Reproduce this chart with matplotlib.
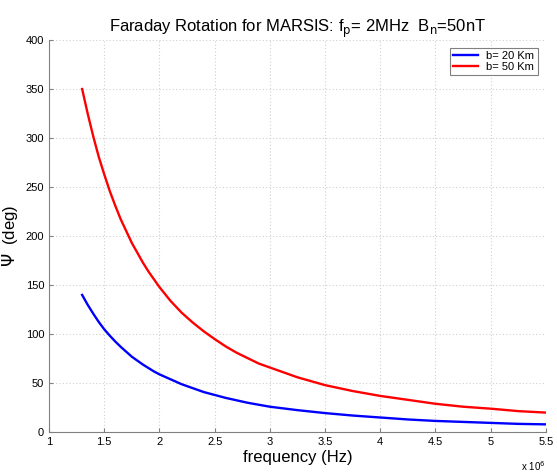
import matplotlib
matplotlib.use("Agg")
import matplotlib.pyplot as plt

# frequency in units of 1e6 Hz
freq = [1.3, 1.35, 1.4, 1.45, 1.5, 1.55, 1.6, 1.65, 1.7, 1.75, 1.8, 1.85, 1.9, 1.95,
        2.0, 2.1, 2.2, 2.3, 2.4, 2.5, 2.6, 2.7, 2.8, 2.9, 3.0,
        3.25, 3.5, 3.75, 4.0, 4.25, 4.5, 4.75, 5.0, 5.25, 5.5]
psi_20km = [140, 130, 121, 112.5, 105, 98.5, 92.5, 87, 82, 77, 73, 69, 65.5, 62,
            59, 54, 49, 45, 41, 38, 35, 32.5, 30, 28, 26,
            22.5, 19.5, 17, 15, 13, 11.5, 10.5, 9.5, 8.5, 8]
psi_50km = [350, 325, 302, 281, 263, 246, 231, 217, 205, 193, 183, 173, 164, 156,
            148, 134, 122, 112, 103, 95, 87.5, 81, 75.5, 70, 66,
            56, 48, 42, 37, 33, 29, 26, 24, 21.5, 20]

xticks = [1, 1.5, 2, 2.5, 3, 3.5, 4, 4.5, 5, 5.5]
xticklabels = ["1", "1.5", "2", "2.5", "3", "3.5", "4", "4.5", "5", "5.5"]
yticks = [0, 50, 100, 150, 200, 250, 300, 350, 400]

plt.rcParams['font.family'] = ['Liberation Sans', 'DejaVu Sans']

fig = plt.figure(figsize=(5.57, 4.76), dpi=100)
ax = fig.add_axes([0.088, 0.092, 0.892, 0.824])

ax.plot(freq, psi_20km, color='blue', linewidth=1.7, label='b= 20 Km')
ax.plot(freq, psi_50km, color='red', linewidth=1.7, label='b= 50 Km')

ax.set_xlim(1, 5.5)
ax.set_ylim(0, 400)
ax.set_xticks(xticks)
ax.set_xticklabels(xticklabels)
ax.set_yticks(yticks)
ax.tick_params(direction='in', length=3, labelsize=8, color='#808080')
ax.grid(True, linestyle=(0, (1, 2)), color='#d0d0d0', linewidth=0.8)

for side in ['top', 'right']:
    ax.spines[side].set_visible(False)
for side in ['left', 'bottom']:
    ax.spines[side].set_color('#808080')

ax.set_title(r'Faraday Rotation for MARSIS: f$_\mathrm{p}$= 2MHz  B$_\mathrm{n}$=50nT',
             fontsize=12, pad=6)
ax.set_xlabel('frequency (Hz)', fontsize=12, labelpad=2)
ax.set_ylabel(r'$\Psi$  (deg)', fontsize=12, labelpad=4)
ax.text(1.0, -0.07, r'x 10$^6$', transform=ax.transAxes, ha='right', va='top', fontsize=7)

leg = ax.legend(loc='upper right', fontsize=8, fancybox=False, framealpha=1,
                edgecolor='#808080', handlelength=2.2, borderpad=0.3,
                labelspacing=0.1, bbox_to_anchor=(0.995, 0.995))
leg.get_frame().set_linewidth(0.8)

fig.savefig('out.png', dpi=100)
